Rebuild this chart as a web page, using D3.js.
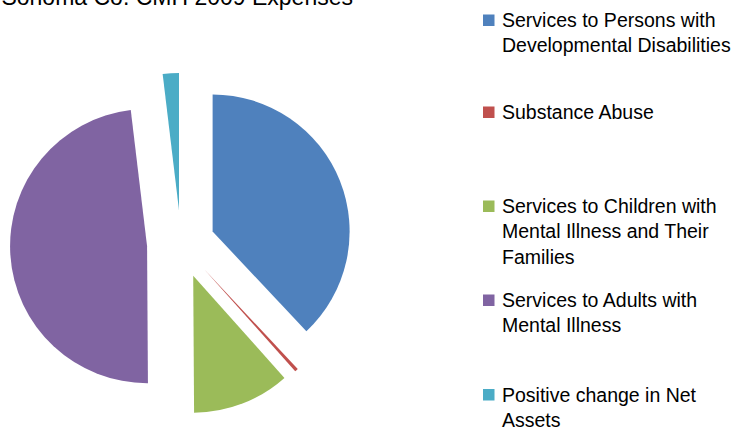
<!DOCTYPE html>
<html>
<head>
<meta charset="utf-8">
<script src="https://cdn.jsdelivr.net/npm/d3@7"></script>
<style>
  html, body { margin: 0; padding: 0; background: #fff; }
  svg { display: block; }
</style>
</head>
<body>
<div id="chart"></div>
<script>
// chart data
const title = "Sonoma Co. CMH 2009 Expenses";
const categories = [
  "Services to Persons with Developmental Disabilities",
  "Substance Abuse",
  "Services to Children with Mental Illness and Their Families",
  "Services to Adults with Mental Illness",
  "Positive change in Net Assets"
];
const legendLines = [
  ["Services to Persons with", "Developmental Disabilities"],
  ["Substance Abuse"],
  ["Services to Children with", "Mental Illness and Their", "Families"],
  ["Services to Adults with", "Mental Illness"],
  ["Positive change in Net", "Assets"]
];
const values = [38.0, 0.4, 11.5, 48.2, 1.9];
const colors = ["#4F81BD", "#C0504D", "#9BBB59", "#8064A2", "#4BACC6"];

const width = 740, height = 428;
const cx = 181, cy = 244, radius = 137, explode = 34;

const svg = d3.select("#chart").append("svg")
    .attr("width", width)
    .attr("height", height);

// title (cut off at the top, as in the original)
svg.append("text")
    .attr("x", 353)
    .attr("y", 5)
    .attr("text-anchor", "end")
    .attr("font-family", "Liberation Sans, Arial, sans-serif")
    .attr("font-size", 23)
    .attr("fill", "#000")
    .text(title);

const pie = d3.pie().sort(null).value(d => d);
const arc = d3.arc().innerRadius(0).outerRadius(radius);

const g = svg.append("g").attr("transform", `translate(${cx},${cy})`);

g.selectAll("path")
  .data(pie(values))
  .join("path")
    .attr("fill", (d, i) => colors[i])
    .attr("transform", d => {
      const a = (d.startAngle + d.endAngle) / 2;
      return `translate(${explode * Math.sin(a)},${-explode * Math.cos(a)})`;
    })
    .attr("d", arc);

// legend
const rowBase = [27, 119, 213, 307, 401.5];
const lineH = 25.3;

const legend = svg.append("g")
    .attr("font-family", "Liberation Sans, Arial, sans-serif")
    .attr("font-size", 19.5)
    .attr("fill", "#000");

const item = legend.selectAll("g")
  .data(categories)
  .join("g")
    .attr("transform", (d, i) => `translate(483,${rowBase[i]})`);

item.append("rect")
    .attr("x", 0)
    .attr("y", -12.5)
    .attr("width", 11.5)
    .attr("height", 11.5)
    .attr("fill", (d, i) => colors[i]);

item.append("text")
    .selectAll("tspan")
    .data((d, i) => legendLines[i])
    .join("tspan")
      .attr("x", 19)
      .attr("y", (d, j) => j * lineH)
      .text(d => d);
</script>
</body>
</html>
